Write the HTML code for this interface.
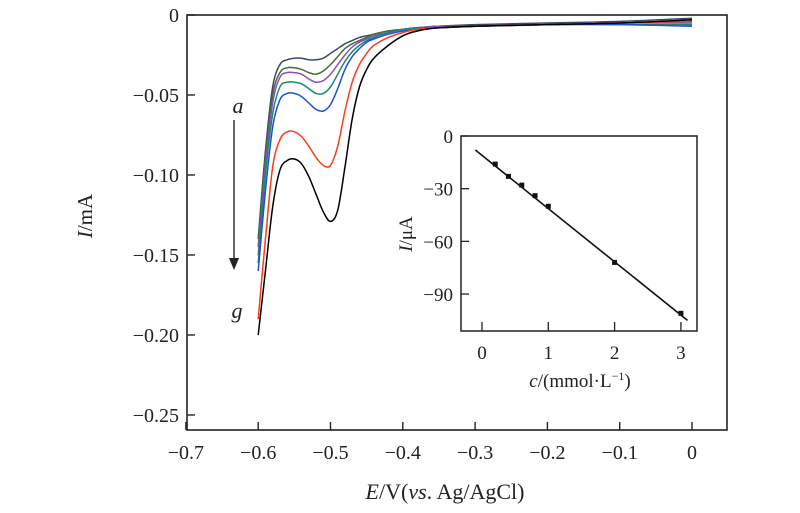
<!DOCTYPE html>
<html><head><meta charset="utf-8"><style>
body{margin:0;background:#fff;}
svg{display:block;font-family:"Liberation Serif",serif;}
</style></head><body>
<svg id="chart" width="800" height="513">
<g id="main"></g><g id="inset"></g>
</svg>
<script>
const potentials=[-0.6,-0.59,-0.58,-0.57,-0.56,-0.55,-0.54,-0.53,-0.52,-0.51,-0.50,-0.49,-0.48,-0.47,-0.46,-0.45,-0.44,-0.42,-0.40,-0.38,-0.35,-0.30,-0.2,-0.1,0];
const curveA=[-0.14,-0.085,-0.045,-0.031,-0.028,-0.027,-0.027,-0.028,-0.028,-0.027,-0.024,-0.021,-0.018,-0.016,-0.014,-0.013,-0.012,-0.010,-0.009,-0.008,-0.007,-0.006,-0.005,-0.004,-0.002];
const curveB=[-0.145,-0.09,-0.05,-0.036,-0.033,-0.033,-0.034,-0.036,-0.037,-0.035,-0.031,-0.026,-0.021,-0.018,-0.016,-0.014,-0.012,-0.010,-0.009,-0.008,-0.007,-0.007,-0.006,-0.005,-0.004];
const curveC=[-0.15,-0.095,-0.055,-0.039,-0.036,-0.036,-0.037,-0.040,-0.042,-0.041,-0.037,-0.031,-0.025,-0.020,-0.017,-0.015,-0.013,-0.011,-0.009,-0.008,-0.007,-0.007,-0.006,-0.005,-0.005];
const curveD=[-0.155,-0.10,-0.062,-0.045,-0.042,-0.042,-0.043,-0.046,-0.049,-0.049,-0.045,-0.037,-0.029,-0.023,-0.019,-0.016,-0.014,-0.011,-0.009,-0.008,-0.008,-0.007,-0.006,-0.006,-0.006];
const curveE=[-0.16,-0.11,-0.07,-0.053,-0.049,-0.049,-0.051,-0.055,-0.059,-0.060,-0.056,-0.046,-0.034,-0.026,-0.021,-0.017,-0.015,-0.012,-0.010,-0.009,-0.008,-0.007,-0.006,-0.006,-0.007];
const curveF=[-0.19,-0.14,-0.095,-0.078,-0.073,-0.073,-0.076,-0.082,-0.089,-0.094,-0.094,-0.082,-0.060,-0.042,-0.031,-0.024,-0.019,-0.014,-0.011,-0.009,-0.008,-0.007,-0.006,-0.005,-0.004];
const curveG=[-0.2,-0.16,-0.12,-0.097,-0.091,-0.09,-0.093,-0.101,-0.112,-0.123,-0.129,-0.122,-0.095,-0.065,-0.045,-0.034,-0.027,-0.019,-0.013,-0.010,-0.008,-0.007,-0.006,-0.005,-0.003];
const curveColors=["#3a4a6a","#4a6a3a","#8a4ec0","#178a70","#2050d0","#ff3a1a","#000000"];
const xTicks=[-0.7,-0.6,-0.5,-0.4,-0.3,-0.2,-0.1,0];
const xTickLabels=["\u22120.7","\u22120.6","\u22120.5","\u22120.4","\u22120.3","\u22120.2","\u22120.1","0"];
const yTicks=[0,-0.05,-0.10,-0.15,-0.20,-0.25];
const yTickLabels=["0","\u22120.05","\u22120.10","\u22120.15","\u22120.20","\u22120.25"];
const insetConc=[0.2,0.4,0.6,0.8,1,2,3];
const insetCurrent=[-16,-23,-28,-34,-40,-72,-101];
const insetFitX=[-0.1,3.1];
const insetFitY=[-8,-105];
const insetXTicks=[0,1,2,3];
const insetYTicks=[0,-30,-60,-90];
const insetYTickLabels=["0","\u221230","\u221260","\u221290"];

const NS="http://www.w3.org/2000/svg";
function el(p,t,a,txt){const e=document.createElementNS(NS,t);for(const k in a)e.setAttribute(k,a[k]);if(txt!==undefined)e.textContent=txt;p.appendChild(e);return e;}
const X=v=>692+723*v, Y=v=>15-1600*v;
const L=187,R=727,T=15,B=430;
const m=document.getElementById('main');
let f=el(m,'rect',{x:L,y:T,width:R-L,height:B-T,fill:'none',stroke:'#222','stroke-width':1.6});

xTicks.forEach((v,i)=>{let t=el(m,'line',{x1:X(v),x2:X(v),y1:B,y2:B-8,stroke:'#222','stroke-width':1.4});

let l=el(m,'text',{x:X(v),y:B+29,'text-anchor':'middle','font-size':20,fill:'#222'},xTickLabels[i]);
});
yTicks.forEach((v,i)=>{let t=el(m,'line',{x1:L,x2:L+8,y1:Y(v),y2:Y(v),stroke:'#222','stroke-width':1.4});

let l=el(m,'text',{x:L-8,y:Y(v)+7,'text-anchor':'end','font-size':20,fill:'#222'},yTickLabels[i]);
});
function smooth(pts){let d='M'+pts[0][0]+','+pts[0][1];for(let i=0;i<pts.length-1;i++){const p0=pts[Math.max(0,i-1)],p1=pts[i],p2=pts[i+1],p3=pts[Math.min(pts.length-1,i+2)];
d+=' C'+(p1[0]+(p2[0]-p0[0])/6)+','+(p1[1]+(p2[1]-p0[1])/6)+' '+(p2[0]-(p3[0]-p1[0])/6)+','+(p2[1]-(p3[1]-p1[1])/6)+' '+p2[0]+','+p2[1];}return d;}
[curveA,curveB,curveC,curveD,curveE,curveF,curveG].forEach((c,i)=>{
let p=el(m,'path',{d:smooth(potentials.map((e,j)=>[X(e),Y(c[j])])),fill:'none',stroke:curveColors[i],'stroke-width':1.5});
});
let a=el(m,'text',{x:238,y:113,'font-size':22,'font-style':'italic','text-anchor':'middle',fill:'#222'},'a');

let g=el(m,'text',{x:237,y:318,'font-size':22,'font-style':'italic','text-anchor':'middle',fill:'#222'},'g');

let ar=el(m,'line',{x1:234,x2:234,y1:120,y2:262,stroke:'#222','stroke-width':1.4});

let ah=el(m,'path',{d:'M229,258 L234,270 L239,258 Z',fill:'#222'});

let yt=el(m,'text',{x:0,y:0,'font-size':21,fill:'#222','text-anchor':'middle',transform:'translate(92,216) rotate(-90)'});
yt.innerHTML='<tspan font-style="italic">I</tspan>/mA';

let xt=el(m,'text',{x:445,y:499,'font-size':22,fill:'#222','text-anchor':'middle'});
xt.innerHTML='<tspan font-style="italic">E</tspan>/V(<tspan font-style="italic">vs</tspan>. Ag/AgCl)';


// inset
const ins=document.getElementById('inset');
const IX=v=>482+66.3*v, IY=v=>136-1.756*v;
const iL=461,iR=697,iT=136,iB=331;
let bg=el(ins,'rect',{x:iL,y:iT,width:iR-iL,height:iB-iT,fill:'#fff',stroke:'#222','stroke-width':1.5});

insetXTicks.forEach(v=>{let t=el(ins,'line',{x1:IX(v),x2:IX(v),y1:iB,y2:iB-9,stroke:'#222','stroke-width':1.3});

let l=el(ins,'text',{x:IX(v),y:iB+28,'text-anchor':'middle','font-size':19,fill:'#222'},String(v));
});
insetYTicks.forEach((v,i)=>{let t=el(ins,'line',{x1:iL,x2:iL+8,y1:IY(v),y2:IY(v),stroke:'#222','stroke-width':1.3});

let l=el(ins,'text',{x:iL-8,y:IY(v)+7,'text-anchor':'end','font-size':19,fill:'#222'},insetYTickLabels[i]);
});
let fit=el(ins,'line',{x1:IX(insetFitX[0]),y1:IY(insetFitY[0]),x2:IX(insetFitX[1]),y2:IY(insetFitY[1]),stroke:'#111','stroke-width':1.6});

insetConc.forEach((c,i)=>{let p=el(ins,'rect',{x:IX(c)-2.5,y:IY(insetCurrent[i])-2.5,width:5,height:5,fill:'#111'});
});
let iyt=el(ins,'text',{x:0,y:0,'font-size':19,fill:'#222','text-anchor':'middle',transform:'translate(412,234) rotate(-90)'});
iyt.innerHTML='<tspan font-style="italic">I</tspan>/μA';

let ixt=el(ins,'text',{x:580,y:387,'font-size':19,fill:'#222','text-anchor':'middle'});
ixt.innerHTML='<tspan font-style="italic">c</tspan>/(mmol·L<tspan font-size="12" dy="-7">−1</tspan><tspan dy="7">)</tspan>';

</script>
</body></html>
